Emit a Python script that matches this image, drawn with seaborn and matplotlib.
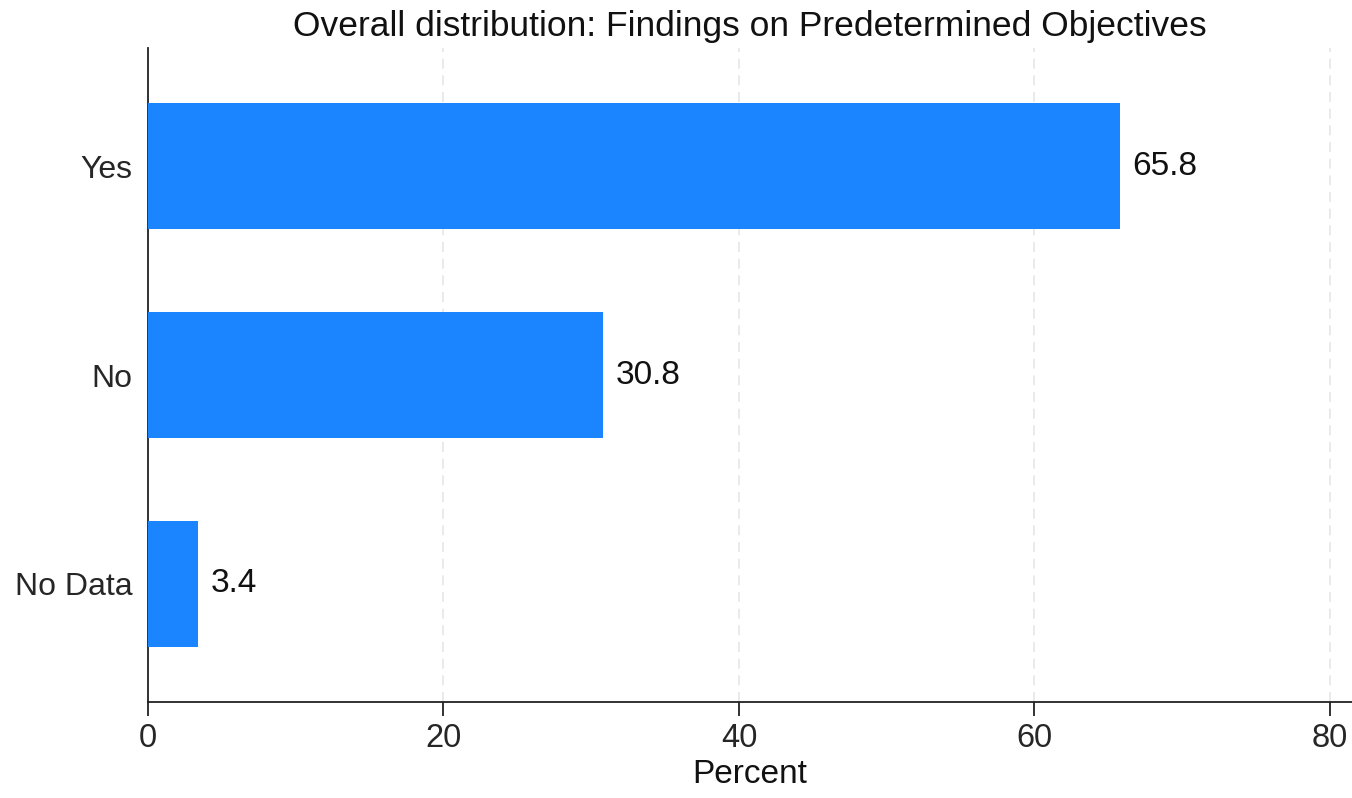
import matplotlib
matplotlib.use("Agg")
import matplotlib.pyplot as plt
import seaborn as sns
import pandas as pd

categories = ["Yes", "No", "No Data"]
percent = [65.8, 30.8, 3.4]
x_ticks = [0, 20, 40, 60, 80]

sns.set_style("white", {"xtick.bottom": True})
plt.rcParams["font.family"] = ["Liberation Sans", "DejaVu Sans"]

df = pd.DataFrame({"category": categories, "percent": percent})

fig = plt.figure(figsize=(13.52, 7.98), dpi=100)
ax = fig.add_axes([0.1095, 0.1203, 0.8905, 0.8195])

sns.barplot(data=df, x="percent", y="category", orient="h", color="#1a85ff",
            saturation=1, width=0.6, linewidth=0, edgecolor="none", ax=ax, zorder=3)

for patch, val in zip(ax.patches, percent):
    ax.annotate(f"{val:.1f}", (patch.get_width(), patch.get_y() + patch.get_height() / 2),
                xytext=(9, 0), textcoords="offset points", va="center", ha="left",
                fontsize=24, color="#111111")

ax.set_xlim(0, 81.5)
ax.set_ylim(2.565, -0.565)
ax.set_xticks(x_ticks)
ax.set_xticklabels([str(t) for t in x_ticks])
ax.xaxis.grid(True, linestyle=(0, (6, 4)), color="#e6e6e6", linewidth=1.2, zorder=0)
ax.yaxis.grid(False)

for side in ["top", "right"]:
    ax.spines[side].set_visible(False)
for side in ["left", "bottom"]:
    ax.spines[side].set_color("#222222")
    ax.spines[side].set_linewidth(1.3)

ax.tick_params(axis="x", which="major", direction="out", length=10, width=1.3,
               color="#222222", labelsize=23.5, pad=5, bottom=True)
ax.tick_params(axis="y", length=0, labelsize=23, pad=11)

ax.set_ylabel("")
ax.set_xlabel("Percent", fontsize=24, labelpad=4, color="#111111")
ax.set_title("Overall distribution: Findings on Predetermined Objectives",
             fontsize=25.5, pad=9, color="#111111")

fig.savefig("out.png", dpi=100)
